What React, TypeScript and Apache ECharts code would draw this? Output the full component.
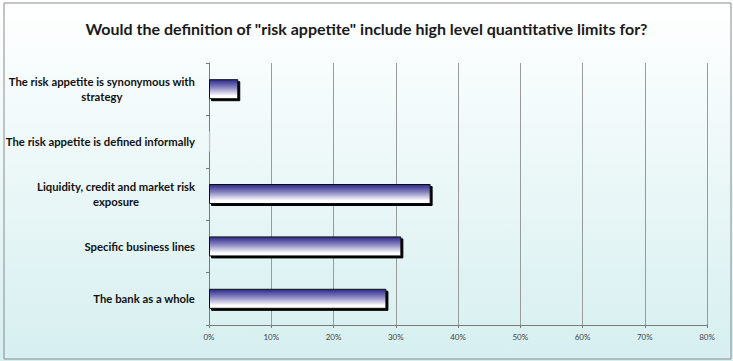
import React, { useEffect, useRef } from "react";
import * as echarts from "echarts";

const categories: string[] = [
  "The bank as a whole",
  "Specific business lines",
  "Liquidity, credit and market risk exposure",
  "The risk appetite is defined informally",
  "The risk appetite is synonymous with strategy",
];

const values: number[] = [28.5, 30.9, 35.6, 0.2, 4.7];

const titleText =
  'Would the definition of "risk appetite" include high level quantitative limits for?';

const FONT = "Lato, 'Open Sans', sans-serif";
const LABEL_SIZE = 11.3;
const LABEL_WIDTH = 192;

// Greedy word wrap using canvas text metrics, so each wrapped line can be
// centred within a right-aligned label block.
function wrapLabel(text: string): string[] {
  const ctx = document.createElement("canvas").getContext("2d");
  if (!ctx) return [text];
  ctx.font = `bold ${LABEL_SIZE}px ${FONT}`;
  const words = text.split(" ");
  const lines: string[] = [];
  let cur = "";
  for (const w of words) {
    const next = cur ? cur + " " + w : w;
    if (cur && ctx.measureText(next).width > LABEL_WIDTH) {
      lines.push(cur);
      cur = w;
    } else {
      cur = next;
    }
  }
  if (cur) lines.push(cur);
  return lines;
}

export default function App() {
  const ref = useRef<HTMLDivElement>(null);

  useEffect(() => {
    if (!ref.current) return;
    const chart = echarts.init(ref.current, null, { renderer: "svg" });

    const barFill = new echarts.graphic.LinearGradient(0, 0, 0, 1, [
      { offset: 0, color: "#2c278a" },
      { offset: 0.4, color: "#8783bf" },
      { offset: 0.85, color: "#ffffff" },
      { offset: 1, color: "#ffffff" },
    ]);

    chart.setOption({
      animation: false,
      backgroundColor: new echarts.graphic.LinearGradient(0, 0, 0, 1, [
        { offset: 0, color: "#ffffff" },
        { offset: 1, color: "#d6eff0" },
      ]),
      title: {
        text: titleText,
        left: "center",
        top: 15,
        textStyle: {
          fontFamily: FONT,
          fontWeight: "bold",
          fontSize: 16,
          color: "#1a1a1a",
        },
      },
      graphic: [
        {
          type: "rect",
          shape: { x: 4, y: 3, width: 727, height: 356 },
          style: { fill: "none", stroke: "#8a8a8a", lineWidth: 1 },
          silent: true,
        },
      ],
      grid: { left: 209, right: 26, top: 63, bottom: 36, containLabel: false },
      xAxis: {
        type: "value",
        min: 0,
        max: 80,
        interval: 10,
        axisLine: { show: true, lineStyle: { color: "#7a7a7a", width: 1 } },
        axisTick: { show: true, length: 3, lineStyle: { color: "#7a7a7a" } },
        splitLine: { show: true, lineStyle: { color: "#9a9a9a", width: 1 } },
        axisLabel: {
          formatter: "{value}%",
          fontFamily: FONT,
          fontSize: 8,
          color: "#444",
          margin: 8,
        },
      },
      yAxis: {
        type: "category",
        data: categories,
        axisLine: { show: true, lineStyle: { color: "#7a7a7a", width: 1 } },
        axisTick: { show: true, length: 3, lineStyle: { color: "#7a7a7a" } },
        axisLabel: {
          align: "right",
          margin: 14,
          formatter: (v: string) =>
            wrapLabel(v)
              .map((line) => `{c|${line}}`)
              .join("\n"),
          rich: {
            c: {
              align: "center",
              fontFamily: FONT,
              fontWeight: "bold",
              fontSize: LABEL_SIZE,
              color: "#111",
              lineHeight: 15,
            },
          },
        },
      },
      series: [
        {
          type: "bar",
          data: values.map((v, i) =>
            i === 3
              ? {
                  value: v,
                  itemStyle: {
                    color: "#d8d8d8",
                    borderColor: "#c8c8c8",
                    borderWidth: 0.5,
                    shadowColor: "rgba(0,0,0,0)",
                  },
                }
              : v
          ),
          barWidth: 20,
          itemStyle: {
            color: barFill,
            borderColor: "#111",
            borderWidth: 1,
            shadowColor: "#000",
            shadowOffsetX: 2,
            shadowOffsetY: 2,
            shadowBlur: 0,
          },
        },
      ],
    });

    return () => chart.dispose();
  }, []);

  return (
    <div
      ref={ref}
      style={{ position: "absolute", left: 0, top: 0, width: 733, height: 361 }}
    />
  );
}
